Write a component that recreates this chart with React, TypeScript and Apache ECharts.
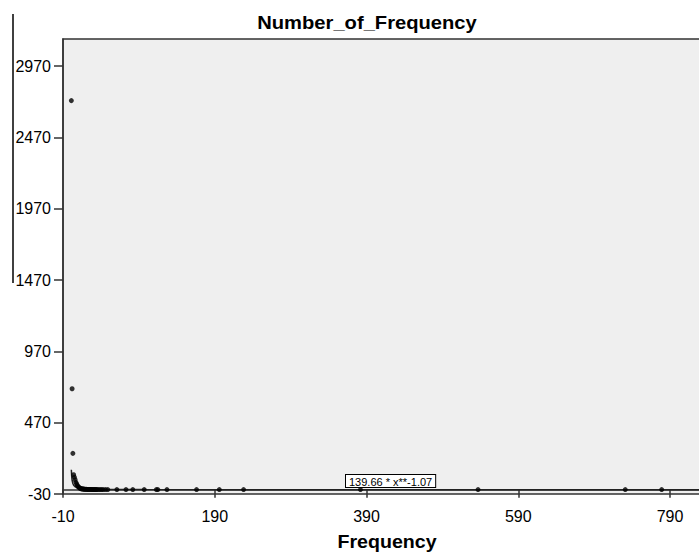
import React, { useEffect, useRef } from "react";
import * as echarts from "echarts";

const FONT = 'Arial, "Liberation Sans", sans-serif';

// Frequency values (x) and number of items with that frequency (y)
const frequency = [
  1, 2, 3, 4, 5, 6, 7, 8, 9, 10, 11, 12, 13, 14, 15, 16,
  17, 18, 19, 20, 21, 22, 23, 24, 25, 26, 27, 28, 29, 30, 31, 32, 33, 34, 35,
  37, 39, 41, 43, 46, 49,
  61, 73, 82, 97, 113, 115, 127, 166, 196, 228, 382, 537, 731, 779,
];
const numberOfFrequency = [
  2728, 708, 255, 105, 88, 70, 52, 40, 30, 22, 16, 12, 9, 7, 6, 5,
  4, 4, 3, 3, 3, 2, 2, 2, 2, 2, 2, 1, 1, 1, 1, 1, 1, 1, 1,
  1, 1, 1, 1, 1, 1,
  1, 1, 1, 1, 1, 1, 1, 1, 1, 1, 1, 1, 1, 1,
];

// Fitted curve (labelled 139.66 * x**-1.07)
const fitX = [1, 1.5, 2, 3, 4, 6, 10, 20, 50, 100, 300, 850];
const fitY = [139.7, 91.0, 66.6, 43.4, 31.8, 20.7, 11.9, 5.7, 2.2, 1.0, 0.31, 0.11];
const fitLabel = "139.66 * x**-1.07";

const xTicks = [-10, 190, 390, 590, 790];
const yTicks = [-30, 470, 970, 1470, 1970, 2470, 2970];

const chartTitle = "Number_of_Frequency";
const xName = "Frequency";

export default function App() {
  const ref = useRef<HTMLDivElement>(null);
  useEffect(() => {
    if (!ref.current) return;
    const chart = echarts.init(ref.current, null, { renderer: "svg" });
    const scatterData = frequency.map((f, i) => [f, numberOfFrequency[i]]);
    const fitData = fitX.map((x, i) => [x, fitY[i]]);
    chart.setOption({
      animation: false,
      backgroundColor: "#ffffff",
      grid: {
        left: 63,
        top: 39,
        width: 648,
        height: 455,
        outerBoundsMode: "none",
        containLabel: false,
        show: true,
        backgroundColor: "#efefef",
        borderColor: "#333333",
        borderWidth: 1.5,
      },
      xAxis: {
        type: "value",
        min: -10,
        max: 844,
        splitLine: { show: false },
        axisLine: { show: true, lineStyle: { color: "#333333", width: 1.5 } },
        axisTick: {
          show: true,
          inside: false,
          length: 8,
          customValues: xTicks,
          lineStyle: { color: "#333333", width: 1.5 },
        },
        axisLabel: {
          customValues: xTicks,
          formatter: (v: number) => String(v),
          color: "#000",
          fontFamily: FONT,
          fontSize: 16,
          margin: 14,
        },
      },
      yAxis: {
        type: "value",
        min: -30,
        max: 3160,
        splitLine: { show: false },
        axisLine: { show: true, onZero: false, lineStyle: { color: "#333333", width: 1.5 } },
        axisTick: {
          show: true,
          inside: false,
          length: 9,
          customValues: yTicks,
          lineStyle: { color: "#333333", width: 1.5 },
        },
        axisLabel: {
          customValues: yTicks,
          formatter: (v: number) => String(v),
          color: "#000",
          fontFamily: FONT,
          fontSize: 16,
          margin: 12,
          padding: [5, 0, 0, 0],
        },
      },
      series: [
        {
          type: "line",
          data: fitData,
          showSymbol: false,
          symbol: "none",
          clip: true,
          lineStyle: { color: "#222222", width: 1.5 },
          z: 2,
        },
        {
          type: "scatter",
          data: scatterData,
          symbol: "circle",
          symbolSize: 5,
          itemStyle: { color: "#000000" },
          z: 3,
        },
      ],
      graphic: [
        {
          type: "text",
          x: 367,
          y: 22.5,
          scaleX: 1.12,
          style: {
            text: chartTitle,
            font: `bold 18px ${FONT}`,
            fill: "#000",
            align: "center",
            verticalAlign: "middle",
          },
        },
        {
          type: "text",
          x: 387,
          y: 542,
          scaleX: 1.09,
          style: {
            text: xName,
            font: `bold 18px ${FONT}`,
            fill: "#000",
            align: "center",
            verticalAlign: "middle",
          },
        },
        {
          type: "line",
          shape: { x1: 13, y1: 14, x2: 13, y2: 283 },
          style: { stroke: "#000", lineWidth: 1.5 },
        },
        {
          type: "text",
          x: 346,
          y: 475,
          z: 10,
          style: {
            text: fitLabel,
            font: `11px ${FONT}`,
            fill: "#000",
            backgroundColor: "#ffffff",
            borderColor: "#000",
            borderWidth: 1,
            padding: [1, 3, 0, 3],
          },
        },
      ],
    });
    return () => chart.dispose();
  }, []);
  return (
    <div
      ref={ref}
      style={{ position: "fixed", left: 0, top: 0, width: 699, height: 552 }}
    />
  );
}
